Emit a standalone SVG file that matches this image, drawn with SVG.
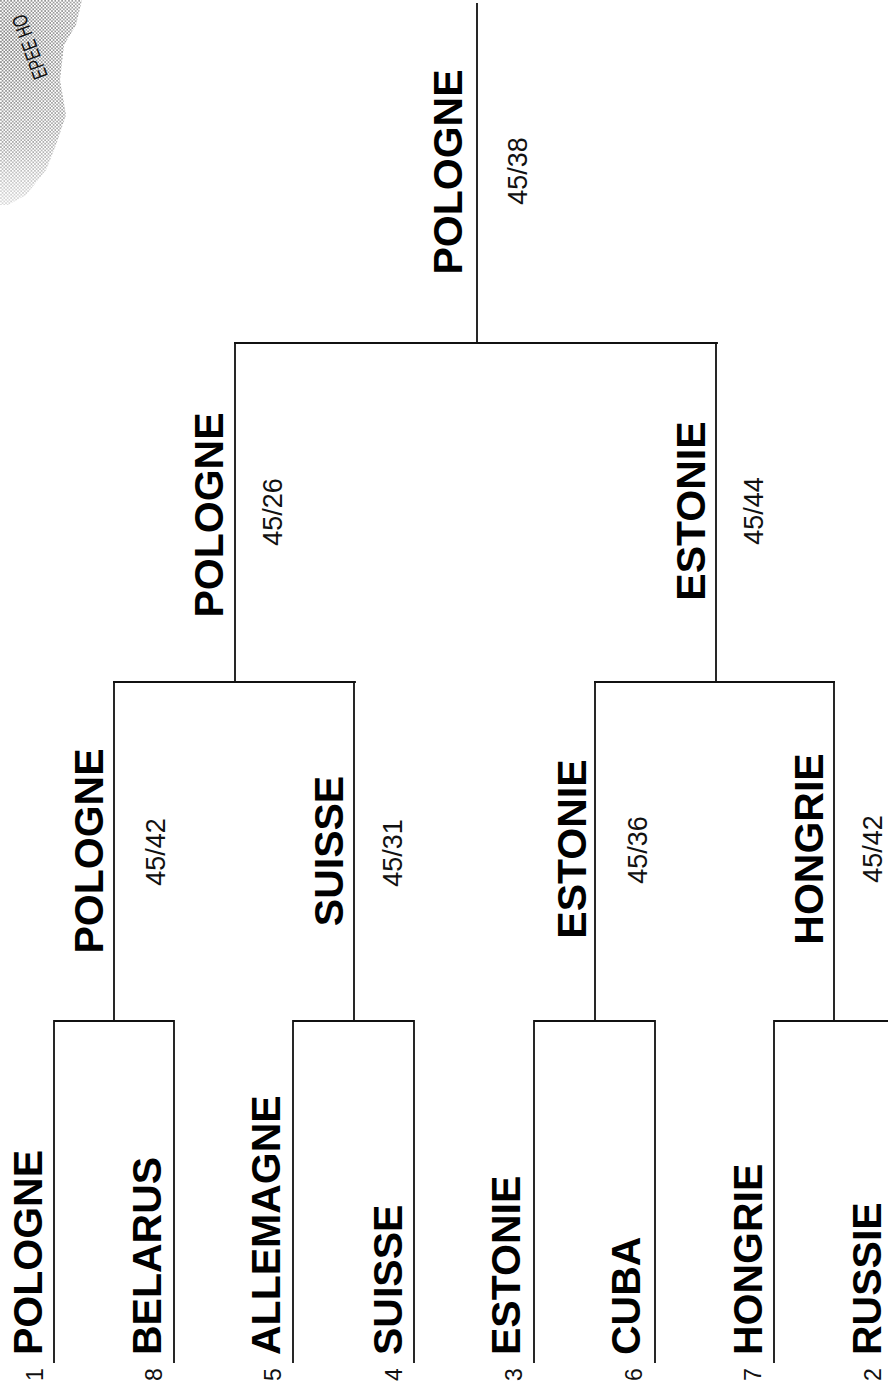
<svg xmlns="http://www.w3.org/2000/svg" width="888" height="1387" viewBox="0 0 888 1387">
<style>
.ln{fill:none;stroke:#111;stroke-width:1.8;stroke-linecap:square}
.nm{font-family:"Liberation Sans",Arial,sans-serif;font-weight:bold;font-size:41px;fill:#000}
.sc{font-family:"Liberation Sans",Arial,sans-serif;font-size:27px;fill:#111}
.sd{font-family:"Liberation Sans",Arial,sans-serif;font-size:23px;fill:#111}
.mid{text-anchor:middle}
.logo{font-family:"Liberation Sans",Arial,sans-serif;font-size:21px;fill:#111}
</style>
<defs>
<pattern id="dots" width="3.4" height="3.4" patternUnits="userSpaceOnUse">
<circle cx="0.9" cy="0.9" r="0.8" fill="#333"/>
<circle cx="2.6" cy="2.6" r="0.8" fill="#333"/>
</pattern>
<radialGradient id="fade" cx="0" cy="40" r="210" gradientUnits="userSpaceOnUse">
<stop offset="0" stop-color="#fff" stop-opacity="0.85"/>
<stop offset="0.5" stop-color="#fff" stop-opacity="0.6"/>
<stop offset="1" stop-color="#fff" stop-opacity="0"/>
</radialGradient>
<mask id="fm"><rect x="0" y="0" width="240" height="240" fill="url(#fade)"/></mask>
</defs>
<rect width="888" height="1387" fill="#fff"/>

<g id="logo">
<path d="M0,0 H82 L76,25 L64,45 L60,80 L66,115 L56,145 L46,170 L26,195 L8,205 L0,205 Z" fill="url(#dots)" mask="url(#fm)"/>
<text class="logo" transform="translate(48,76) rotate(-110) scale(0.72,1)">EPEE HO</text>
</g>

<g id="connectors">
<path class="ln" d="M54,1362 V1021 H174 V1362 M114,1021 V682"/>
<path class="ln" d="M293,1362 V1021 H414 V1362 M354,1021 V682"/>
<path class="ln" d="M534,1362 V1021 H655 V1362 M595,1021 V682"/>
<path class="ln" d="M774,1362 V1021 H900 M834,1021 V682"/>
<path class="ln" d="M114,682 H355 V682 M235,682 V343"/>
<path class="ln" d="M595,682 H834 M716,682 V343"/>
<path class="ln" d="M235,343 H717 M477,343 V4"/>
</g>

<g id="seed-pologne"><text class="sd" transform="translate(43,1381) rotate(-90)">1</text><text class="nm" transform="translate(42,1355) rotate(-90)">POLOGNE</text></g>
<g id="seed-belarus"><text class="sd" transform="translate(162,1381) rotate(-90)">8</text><text class="nm" transform="translate(161,1355) rotate(-90)">BELARUS</text></g>
<g id="seed-allemagne"><text class="sd" transform="translate(281,1381) rotate(-90)">5</text><text class="nm" transform="translate(280,1355) rotate(-90)">ALLEMAGNE</text></g>
<g id="seed-suisse"><text class="sd" transform="translate(402,1381) rotate(-90)">4</text><text class="nm" transform="translate(402,1355) rotate(-90)">SUISSE</text></g>
<g id="seed-estonie"><text class="sd" transform="translate(522,1381) rotate(-90)">3</text><text class="nm" transform="translate(520,1355) rotate(-90)">ESTONIE</text></g>
<g id="seed-cuba"><text class="sd" transform="translate(642,1381) rotate(-90)">6</text><text class="nm" transform="translate(640,1355) rotate(-90)">CUBA</text></g>
<g id="seed-hongrie"><text class="sd" transform="translate(761,1381) rotate(-90)">7</text><text class="nm" transform="translate(762,1355) rotate(-90)">HONGRIE</text></g>
<g id="seed-russie"><text class="sd" transform="translate(881,1381) rotate(-90)">2</text><text class="nm" transform="translate(881,1355) rotate(-90)">RUSSIE</text></g>

<g id="r2-pologne"><text class="nm mid" transform="translate(103,851) rotate(-90)">POLOGNE</text><text class="sc mid" transform="translate(165,852) rotate(-90)">45/42</text></g>
<g id="r2-suisse"><text class="nm mid" transform="translate(343,851) rotate(-90)">SUISSE</text><text class="sc mid" transform="translate(402,853) rotate(-90)">45/31</text></g>
<g id="r2-estonie"><text class="nm mid" transform="translate(586,849) rotate(-90)">ESTONIE</text><text class="sc mid" transform="translate(647,850) rotate(-90)">45/36</text></g>
<g id="r2-hongrie"><text class="nm mid" transform="translate(823,849) rotate(-90)">HONGRIE</text><text class="sc mid" transform="translate(882,849) rotate(-90)">45/42</text></g>

<g id="r3-pologne"><text class="nm mid" transform="translate(223,515) rotate(-90)">POLOGNE</text><text class="sc mid" transform="translate(282,512) rotate(-90)">45/26</text></g>
<g id="r3-estonie"><text class="nm mid" transform="translate(705,511) rotate(-90)">ESTONIE</text><text class="sc mid" transform="translate(763,511) rotate(-90)">45/44</text></g>

<g id="final-pologne"><text class="nm mid" transform="translate(462,172) rotate(-90)">POLOGNE</text><text class="sc mid" transform="translate(527,171) rotate(-90)">45/38</text></g>
</svg>
